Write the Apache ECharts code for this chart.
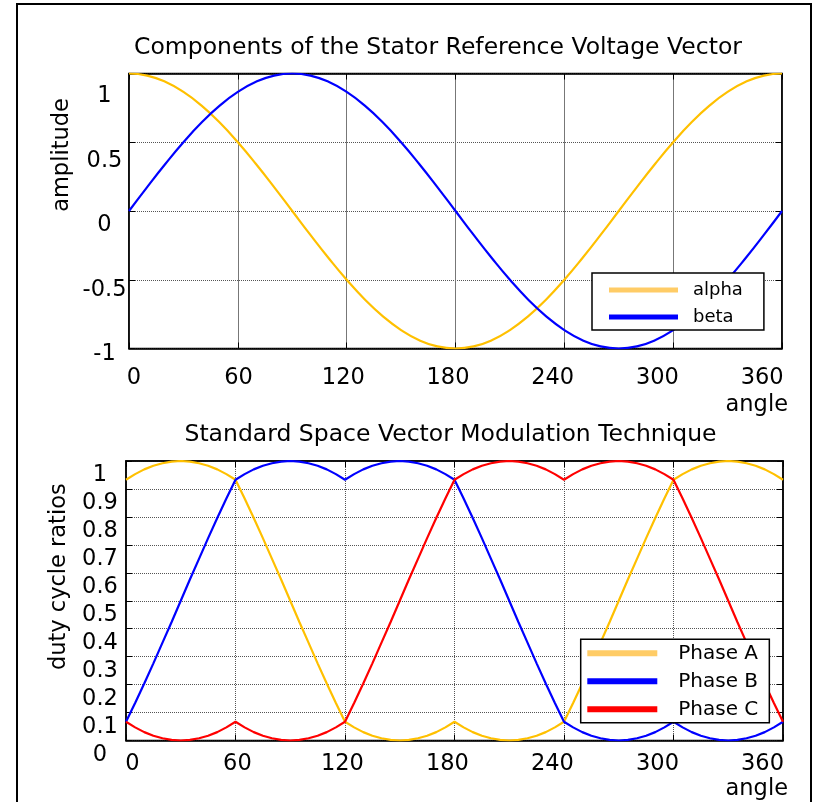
<!DOCTYPE html>
<html>
<head>
<meta charset="utf-8">
<script src="https://cdn.jsdelivr.net/npm/echarts@6/dist/echarts.min.js"></script>
<style>
  html, body { margin: 0; padding: 0; background: #fff; }
  #chart { width: 817px; height: 802px; }
</style>
</head>
<body>
<div id="chart"></div>
<script>
// ---- Stator reference voltage components (angle in degrees) ----
const angleCoarse = [0,10,20,30,40,50,60,70,80,90,100,110,120,130,140,150,160,170,180,
  190,200,210,220,230,240,250,260,270,280,290,300,310,320,330,340,350,360];
const alpha = [1.000,0.985,0.940,0.866,0.766,0.643,0.500,0.342,0.174,0.000,-0.174,-0.342,-0.500,
  -0.643,-0.766,-0.866,-0.940,-0.985,-1.000,-0.985,-0.940,-0.866,-0.766,-0.643,-0.500,-0.342,
  -0.174,0.000,0.174,0.342,0.500,0.643,0.766,0.866,0.940,0.985,1.000];
const beta = [0.000,0.174,0.342,0.500,0.643,0.766,0.866,0.940,0.985,1.000,0.985,0.940,0.866,
  0.766,0.643,0.500,0.342,0.174,0.000,-0.174,-0.342,-0.500,-0.643,-0.766,-0.866,-0.940,-0.985,
  -1.000,-0.985,-0.940,-0.866,-0.766,-0.643,-0.500,-0.342,-0.174,0.000];

// ---- SVM duty cycle ratios (angle in degrees) ----
const angleFine = [0,5,10,15,20,25,30,35,40,45,50,55,60,65,70,75,80,85,90,95,100,105,110,115,
  120,125,130,135,140,145,150,155,160,165,170,175,180,185,190,195,200,205,210,215,220,225,230,
  235,240,245,250,255,260,265,270,275,280,285,290,295,300,305,310,315,320,325,330,335,340,345,
  350,355,360];
const phaseA = [
  0.933,0.953,0.970,0.983,0.992,0.998,1.000,0.998,0.992,0.983,0.970,0.953,0.933,
  0.866,0.796,0.724,0.650,0.576,0.500,0.424,0.350,0.276,0.204,0.134,0.067,
  0.047,0.030,0.017,0.008,0.002,0.000,0.002,0.008,0.017,0.030,0.047,0.067,
  0.047,0.030,0.017,0.008,0.002,0.000,0.002,0.008,0.017,0.030,0.047,0.067,
  0.134,0.204,0.276,0.350,0.424,0.500,0.576,0.650,0.724,0.796,0.866,0.933,
  0.953,0.970,0.983,0.992,0.998,1.000,0.998,0.992,0.983,0.970,0.953,0.933];
const phaseB = [
  0.067,0.134,0.204,0.276,0.350,0.424,0.500,0.576,0.650,0.724,0.796,0.866,0.933,
  0.953,0.970,0.983,0.992,0.998,1.000,0.998,0.992,0.983,0.970,0.953,0.933,
  0.953,0.970,0.983,0.992,0.998,1.000,0.998,0.992,0.983,0.970,0.953,0.933,
  0.866,0.796,0.724,0.650,0.576,0.500,0.424,0.350,0.276,0.204,0.134,0.067,
  0.047,0.030,0.017,0.008,0.002,0.000,0.002,0.008,0.017,0.030,0.047,0.067,
  0.047,0.030,0.017,0.008,0.002,0.000,0.002,0.008,0.017,0.030,0.047,0.067];
const phaseC = [
  0.067,0.047,0.030,0.017,0.008,0.002,0.000,0.002,0.008,0.017,0.030,0.047,0.067,
  0.047,0.030,0.017,0.008,0.002,0.000,0.002,0.008,0.017,0.030,0.047,0.067,
  0.134,0.204,0.276,0.350,0.424,0.500,0.576,0.650,0.724,0.796,0.866,0.933,
  0.953,0.970,0.983,0.992,0.998,1.000,0.998,0.992,0.983,0.970,0.953,0.933,
  0.953,0.970,0.983,0.992,0.998,1.000,0.998,0.992,0.983,0.970,0.953,0.933,
  0.866,0.796,0.724,0.650,0.576,0.500,0.424,0.350,0.276,0.204,0.134,0.067];

const FONT = 'DejaVu Sans';
const YELLOW = '#FFC000', BLUE = '#0000FF', RED = '#FF0000';
const pairs = (xs, ys) => xs.map((x, i) => [x, ys[i]]);

// Plot frames (0, 1) and the frames the tick labels are laid out on (2, 3)
const grids = [
  { left: 129, top: 73.5, width: 653, height: 275 },
  { left: 126, top: 461, width: 657, height: 279.5 },
  { left: 133.9, top: 96.3, width: 628.2, height: 257.9 },
  { left: 132.4, top: 475.5, width: 630.1, height: 279.5 }
].map(g => Object.assign({ show: true, borderColor: 'transparent', borderWidth: 0,
  containLabel: false, outerBoundsMode: 'none' }, g));
grids[0].borderColor = '#000'; grids[0].borderWidth = 1.5;
grids[1].borderColor = '#000'; grids[1].borderWidth = 1.5;

const frameLine = { show: true, onZero: false, lineStyle: { color: '#000', width: 1.5 } };
const inTick = { show: true, inside: true, length: 6, lineStyle: { color: '#000', width: 1 } };
const dotted = { show: true, lineStyle: { color: '#555', type: 'dotted', width: 1 } };
const solidGrid = { show: true, lineStyle: { color: '#777', type: 'solid', width: 1 } };
const tickFont = { fontFamily: FONT, fontSize: 22.5, color: '#000' };

function plotAxis(gi, pos, min, max, interval, split) {
  return { type: 'value', gridIndex: gi, position: pos, min, max, interval,
    axisLine: frameLine, axisTick: inTick, axisLabel: { show: false },
    splitLine: split || { show: false } };
}
function labelAxis(gi, pos, min, max, interval, label) {
  return { type: 'value', gridIndex: gi, position: pos, min, max, interval,
    axisLine: { show: false, onZero: false }, axisTick: { show: false }, splitLine: { show: false },
    axisLabel: Object.assign({ show: true, showMinLabel: true, showMaxLabel: true }, tickFont, label) };
}

const xAxis = [
  plotAxis(0, 'bottom', 0, 360, 60, solidGrid),
  plotAxis(0, 'top', 0, 360, 60),
  plotAxis(1, 'bottom', 0, 360, 60, dotted),
  plotAxis(1, 'top', 0, 360, 60),
  labelAxis(2, 'bottom', 0, 360, 60, { margin: 23.5, verticalAlign: 'middle' }),
  labelAxis(3, 'bottom', 0, 360, 60, { margin: 9, verticalAlign: 'middle' })
];
const yAxis = [
  plotAxis(0, 'left', -1, 1, 0.5, dotted),
  plotAxis(0, 'right', -1, 1, 0.5),
  plotAxis(1, 'left', 0, 1, 0.1, dotted),
  plotAxis(1, 'right', 0, 1, 0.1),
  labelAxis(2, 'left', -1, 1, 0.5, { margin: 29.4, align: 'center' }),
  labelAxis(3, 'left', 0, 1, 0.1, { margin: 32.4, align: 'center' })
];

function lineSeries(name, xi, yi, xs, ys, color, smooth) {
  return { type: 'line', name, xAxisIndex: xi, yAxisIndex: yi, data: pairs(xs, ys),
    showSymbol: false, smooth: !!smooth, lineStyle: { color, width: 2.2 },
    itemStyle: { color }, emphasis: { disabled: true } };
}

const legendBase = { orient: 'vertical', icon: 'rect', selectedMode: false,
  backgroundColor: '#fff', borderColor: '#000', borderWidth: 1.5, borderRadius: 0 };

const text = (x, y, str, size, extra) => Object.assign({ type: 'text', x, y, z: 10,
  style: { text: str, fontFamily: FONT, fontSize: size, fill: '#000',
    align: 'center', verticalAlign: 'middle' } }, extra || {});
const rightText = (x, y, str, size) => ({ type: 'text', x, y, z: 10,
  style: { text: str, fontFamily: FONT, fontSize: size, fill: '#000',
    align: 'right', verticalAlign: 'middle' } });

const option = {
  animation: false,
  backgroundColor: '#fff',
  grid: grids,
  xAxis, yAxis,
  legend: [
    Object.assign({}, legendBase, {
      data: [{ name: 'alpha', itemStyle: { color: '#FFCC66' } }, { name: 'beta' }],
      left: 592, top: 273, padding: [7, 21, 3, 17], itemGap: 7,
      itemWidth: 69, itemHeight: 5,
      textStyle: { fontFamily: FONT, fontSize: 18, lineHeight: 20, color: '#000', padding: [0, 0, 0, 10] }
    }),
    Object.assign({}, legendBase, {
      data: [{ name: 'Phase A', itemStyle: { color: '#FFCC66' } }, { name: 'Phase B' }, { name: 'Phase C' }],
      left: 580.7, top: 639.3, padding: [3, 11, 2.4, 6.6], itemGap: 6,
      itemWidth: 70, itemHeight: 6,
      textStyle: { fontFamily: FONT, fontSize: 20, lineHeight: 22, color: '#000', padding: [0, 0, 0, 16] }
    })
  ],
  series: [
    lineSeries('alpha', 0, 0, angleCoarse, alpha, YELLOW, true),
    lineSeries('beta', 0, 0, angleCoarse, beta, BLUE, true),
    lineSeries('Phase A', 2, 2, angleFine, phaseA, YELLOW),
    lineSeries('Phase B', 2, 2, angleFine, phaseB, BLUE),
    lineSeries('Phase C', 2, 2, angleFine, phaseC, RED)
  ],
  graphic: [
    { type: 'rect', shape: { x: 17, y: 4, width: 794, height: 830 }, z: 10,
      style: { fill: 'none', stroke: '#000', lineWidth: 2 } },
    text(438, 47.5, 'Components of the Stator Reference Voltage Vector', 23.5),
    text(450.5, 434.5, 'Standard Space Vector Modulation Technique', 23.5),
    text(62, 155, 'amplitude', 22.5, { rotation: Math.PI / 2 }),
    text(59, 576.7, 'duty cycle ratios', 22.5, { rotation: Math.PI / 2 }),
    rightText(788, 405.5, 'angle', 22.5),
    rightText(788, 789, 'angle', 22.5)
  ]
};

const chart = echarts.init(document.getElementById('chart'), null, { renderer: 'canvas' });
chart.setOption(option);
</script>
</body>
</html>
